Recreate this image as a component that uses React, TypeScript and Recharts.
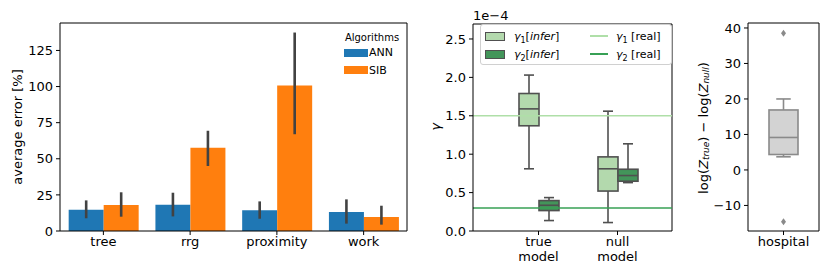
import React from 'react';
import { BarChart, ComposedChart, Bar, XAxis, YAxis, ErrorBar, ReferenceLine, Legend, CartesianGrid } from 'recharts';

// left panel: average error per network
const networks = ['tree', 'rrg', 'proximity', 'work'];
const annMean = [14.7, 18.2, 14.3, 13.1];
const annLow = [8.8, 10.1, 8.5, 5.1];
const annHigh = [21.2, 26.5, 20.5, 21.9];
const sibMean = [18.0, 57.6, 100.7, 9.7];
const sibLow = [9.9, 45.0, 67.0, 4.4];
const sibHigh = [26.8, 69.4, 137.4, 17.5];
const errorTicks = [0, 25, 50, 75, 100, 125];

// middle panel: box stats [min, q1, median, q3, max], in units of 1e-4
const models = ['true\nmodel', 'null\nmodel'];
const gamma1Infer = [
  [0.81, 1.37, 1.59, 1.79, 2.03],
  [0.11, 0.52, 0.81, 0.965, 1.56],
];
const gamma2Infer = [
  [0.136, 0.266, 0.335, 0.396, 0.435],
  [0.63, 0.648, 0.722, 0.804, 1.135],
];
const gamma1Real = 1.5;
const gamma2Real = 0.3;
const gammaTicks = [0, 0.5, 1.0, 1.5, 2.0, 2.5];

// right panel: log evidence difference
const sites = ['hospital'];
const logZDiff = [[3.7, 4.35, 9.15, 16.9, 20.0]];
const logZOutliers = [[38.5, -14.6]];
const logZTicks = [-10, 0, 10, 20, 30, 40];

const FONT = '"DejaVu Sans", sans-serif';
const ANN = '#1f77b4';
const SIB = '#ff7f0e';
const G1_LINE = '#afdfa8';
const G2_LINE = '#37a055';
const G1_BOX = '#b3d9ad';
const G2_BOX = '#43955a';
const BOX_EDGE = '#505050';

const errorData = networks.map((name, i) => ({
  name,
  ann: annMean[i],
  annErr: [annMean[i] - annLow[i], annHigh[i] - annMean[i]],
  sib: sibMean[i],
  sibErr: [sibMean[i] - sibLow[i], sibHigh[i] - sibMean[i]],
}));

const gammaData = models.map((name, i) => ({
  name,
  g1: gamma1Infer[i],
  g1Range: [gamma1Infer[i][0], gamma1Infer[i][4]],
  g2: gamma2Infer[i],
  g2Range: [gamma2Infer[i][0], gamma2Infer[i][4]],
}));

const logZData = sites.map((name, i) => ({
  name,
  box: logZDiff[i],
  range: [logZDiff[i][0], logZDiff[i][4]],
  out: logZOutliers[i],
}));

const minus = (v: number) => (v < 0 ? '\u2212' + Math.abs(v) : String(v));

// box-and-whisker drawn inside the [min, max] range bar
function renderBox(statsKey: string, fill: string, edge: string, outKey?: string) {
  return (props: any) => {
    const { x, y, width, height, payload } = props;
    const [lo, q1, med, q3, hi] = payload[statsKey];
    const py = (v: number) => y + (height * (hi - v)) / (hi - lo);
    const cx = x + width / 2;
    const cap = width / 4;
    const outs: number[] = outKey ? payload[outKey] : [];
    const s = { stroke: edge, strokeWidth: 1.6 };
    return (
      <g>
        <line x1={cx} x2={cx} y1={py(hi)} y2={py(q3)} {...s} />
        <line x1={cx} x2={cx} y1={py(q1)} y2={py(lo)} {...s} />
        <line x1={cx - cap} x2={cx + cap} y1={py(hi)} y2={py(hi)} {...s} />
        <line x1={cx - cap} x2={cx + cap} y1={py(lo)} y2={py(lo)} {...s} />
        <rect x={x} y={py(q3)} width={width} height={py(q1) - py(q3)} fill={fill} {...s} />
        <line x1={x} x2={x + width} y1={py(med)} y2={py(med)} {...s} />
        {outs.map((v, k) => {
          const oy = py(v);
          return (
            <path key={k} d={`M${cx},${oy - 3.5}L${cx + 2.5},${oy}L${cx},${oy + 3.5}L${cx - 2.5},${oy}Z`} fill={edge} />
          );
        })}
      </g>
    );
  };
}

// top and right spines, so each panel gets a closed frame
const Frame = () => (
  <CartesianGrid
    stroke="#000"
    strokeWidth={1}
    horizontalCoordinatesGenerator={({ offset }: any) => [offset.top]}
    verticalCoordinatesGenerator={({ offset }: any) => [offset.left + offset.width]}
  />
);

const TwoLineTick = (props: any) => {
  const { x, y, payload } = props;
  const lines = String(payload.value).split('\n');
  return (
    <text x={x} y={y} textAnchor="middle" fontSize={13} fill="#000" fontFamily={FONT}>
      {lines.map((l, i) => (
        <tspan key={i} x={x} dy={i === 0 ? '0.71em' : 15}>
          {l}
        </tspan>
      ))}
    </text>
  );
};

const tickStyle = { fontSize: 13, fill: '#000', fontFamily: FONT };
const axisLine = { stroke: '#000', strokeWidth: 1 };

const ErrorLegend = () => (
  <div style={{ fontFamily: FONT, color: '#000' }}>
    <div style={{ fontSize: 10, textAlign: 'center', width: 56, lineHeight: '12px' }}>Algorithms</div>
    {[
      ['ANN', ANN],
      ['SIB', SIB],
    ].map(([label, color]) => (
      <div key={label} style={{ display: 'flex', alignItems: 'center', height: 17.5, marginTop: 0 }}>
        <span style={{ display: 'inline-block', width: 24, height: 8, background: color }} />
        <span style={{ fontSize: 11, marginLeft: 1 }}>{label}</span>
      </div>
    ))}
  </div>
);

const GammaLegend = () => {
  const sub = { fontSize: 8, verticalAlign: 'sub' as const, lineHeight: 0 };
  return (
    <div
      style={{
        fontFamily: FONT,
        fontSize: 11,
        color: '#000',
        background: 'rgba(255,255,255,0.85)',
        border: '1px solid #d0d0d0',
        borderRadius: 3,
        boxSizing: 'border-box',
        width: 192,
        height: 41,
        padding: '2px 0 0 4px',
        display: 'grid',
        gridTemplateColumns: '105px 85px',
        gridTemplateRows: '18px 18px',
        alignItems: 'center',
      }}
    >
      <div style={{ display: 'flex', alignItems: 'center' }}>
        <span style={{ width: 18, height: 7, background: G1_BOX, border: `1px solid ${BOX_EDGE}`, marginRight: 9 }} />
        <span>
          <i>γ</i>
          <span style={sub}>1</span>[<i>infer</i>]
        </span>
      </div>
      <div style={{ display: 'flex', alignItems: 'center' }}>
        <span style={{ width: 18, height: 1.6, background: G1_LINE, marginRight: 8 }} />
        <span>
          <i>γ</i>
          <span style={sub}>1</span> [real]
        </span>
      </div>
      <div style={{ display: 'flex', alignItems: 'center' }}>
        <span style={{ width: 18, height: 7, background: G2_BOX, border: `1px solid ${BOX_EDGE}`, marginRight: 9 }} />
        <span>
          <i>γ</i>
          <span style={sub}>2</span>[<i>infer</i>]
        </span>
      </div>
      <div style={{ display: 'flex', alignItems: 'center' }}>
        <span style={{ width: 18, height: 1.6, background: G2_LINE, marginRight: 8 }} />
        <span>
          <i>γ</i>
          <span style={sub}>2</span> [real]
        </span>
      </div>
    </div>
  );
};

const ErrorChart = () => (
  <BarChart
    width={420}
    height={277}
    data={errorData}
    margin={{ top: 23, right: 13, bottom: 16, left: 0 }}
    barCategoryGap="10%"
    barGap={0}
  >
    {Frame()}
    <XAxis dataKey="name" height={30} tick={tickStyle} tickSize={4} axisLine={axisLine} tickLine={{ stroke: '#000' }} />
    <YAxis
      width={60}
      domain={[0, 144]}
      ticks={errorTicks}
      tick={tickStyle}
      tickSize={4}
      tickMargin={3}
      axisLine={axisLine}
      tickLine={{ stroke: '#000' }}
      label={() => (
        <text x={17} y={127} transform="rotate(-90 17 127)" textAnchor="middle" dominantBaseline="central" fontSize={13} fontFamily={FONT} fill="#000">
          average error [%]
        </text>
      )}
    />
    <Bar dataKey="ann" fill={ANN} isAnimationActive={false}>
      <ErrorBar dataKey="annErr" width={0} stroke="#424242" strokeWidth={2.6} />
    </Bar>
    <Bar dataKey="sib" fill={SIB} isAnimationActive={false}>
      <ErrorBar dataKey="sibErr" width={0} stroke="#424242" strokeWidth={2.6} />
    </Bar>
    <Legend
      layout="vertical"
      align="center"
      verticalAlign="middle"
      content={() => <ErrorLegend />}
      wrapperStyle={{ position: 'absolute', left: 344, top: 32, right: 'auto', bottom: 'auto', width: 60, height: 50 }}
    />
  </BarChart>
);

const GammaChart = () => (
  <ComposedChart
    width={270}
    height={277}
    data={gammaData}
    margin={{ top: 24, right: 18, bottom: 16, left: 0 }}
    barGap={0}
  >
    {Frame()}
    <XAxis
      dataKey="name"
      height={30}
      padding={{ left: 26, right: 15 }}
      tick={<TwoLineTick />}
      tickSize={4}
      axisLine={axisLine}
      tickLine={{ stroke: '#000' }}
    />
    <YAxis
      width={53}
      domain={[0, 2.695]}
      ticks={gammaTicks}
      tickFormatter={(v: number) => v.toFixed(1)}
      tick={tickStyle}
      tickSize={4}
      tickMargin={3}
      axisLine={axisLine}
      tickLine={{ stroke: '#000' }}
      label={() => (
        <g>
          <text x={15} y={127} transform="rotate(-90 15 127)" textAnchor="middle" dominantBaseline="central" fontSize={13} fontStyle="italic" fontFamily={FONT} fill="#000">
            γ
          </text>
          <text x={53} y={20} fontSize={13} fontFamily={FONT} fill="#000">
            1e−4
          </text>
        </g>
      )}
    />
    <ReferenceLine y={gamma1Real} stroke={G1_LINE} strokeWidth={1.6} />
    <ReferenceLine y={gamma2Real} stroke={G2_LINE} strokeWidth={1.6} />
    <Bar dataKey="g1Range" barSize={20} fill={G1_BOX} shape={renderBox('g1', G1_BOX, BOX_EDGE)} isAnimationActive={false} />
    <Bar dataKey="g2Range" barSize={20} fill={G2_BOX} shape={renderBox('g2', G2_BOX, BOX_EDGE)} isAnimationActive={false} />
    <Legend
      layout="vertical"
      align="center"
      verticalAlign="middle"
      content={() => <GammaLegend />}
      wrapperStyle={{ position: 'absolute', left: 60, top: 24, right: 'auto', bottom: 'auto', width: 192, height: 41 }}
    />
  </ComposedChart>
);

const LogZChart = () => (
  <ComposedChart width={140} height={277} data={logZData} margin={{ top: 23, right: 11, bottom: 16, left: 0 }}>
    {Frame()}
    <XAxis dataKey="name" height={30} tick={tickStyle} tickSize={4} axisLine={axisLine} tickLine={{ stroke: '#000' }} />
    <YAxis
      width={58}
      domain={[-17.2, 41.4]}
      ticks={logZTicks}
      tickFormatter={minus}
      tick={tickStyle}
      tickSize={4}
      tickMargin={3}
      axisLine={axisLine}
      tickLine={{ stroke: '#000' }}
      label={() => (
        <text x={13} y={128} transform="rotate(-90 13 128)" textAnchor="middle" dominantBaseline="central" fontSize={13} fontFamily={FONT} fill="#000">
          <tspan>log(</tspan>
          <tspan fontStyle="italic">Z</tspan>
          <tspan fontSize={9} fontStyle="italic" dy={3}>true</tspan>
          <tspan dy={-3}>) − log(</tspan>
          <tspan fontStyle="italic">Z</tspan>
          <tspan fontSize={9} fontStyle="italic" dy={3}>null</tspan>
          <tspan dy={-3}>)</tspan>
        </text>
      )}
    />
    <Bar dataKey="range" barSize={29} fill="#d3d3d3" shape={renderBox('box', '#d3d3d3', '#8a8a8a', 'out')} isAnimationActive={false} />
  </ComposedChart>
);

export default function App() {
  return (
    <div style={{ position: 'absolute', left: 0, top: 0, width: 830, height: 277, background: '#fff', fontFamily: FONT }}>
      <div style={{ position: 'absolute', left: 0, top: 0 }}>
        <ErrorChart />
      </div>
      <div style={{ position: 'absolute', left: 420, top: 0 }}>
        <GammaChart />
      </div>
      <div style={{ position: 'absolute', left: 690, top: 0 }}>
        <LogZChart />
      </div>
    </div>
  );
}
